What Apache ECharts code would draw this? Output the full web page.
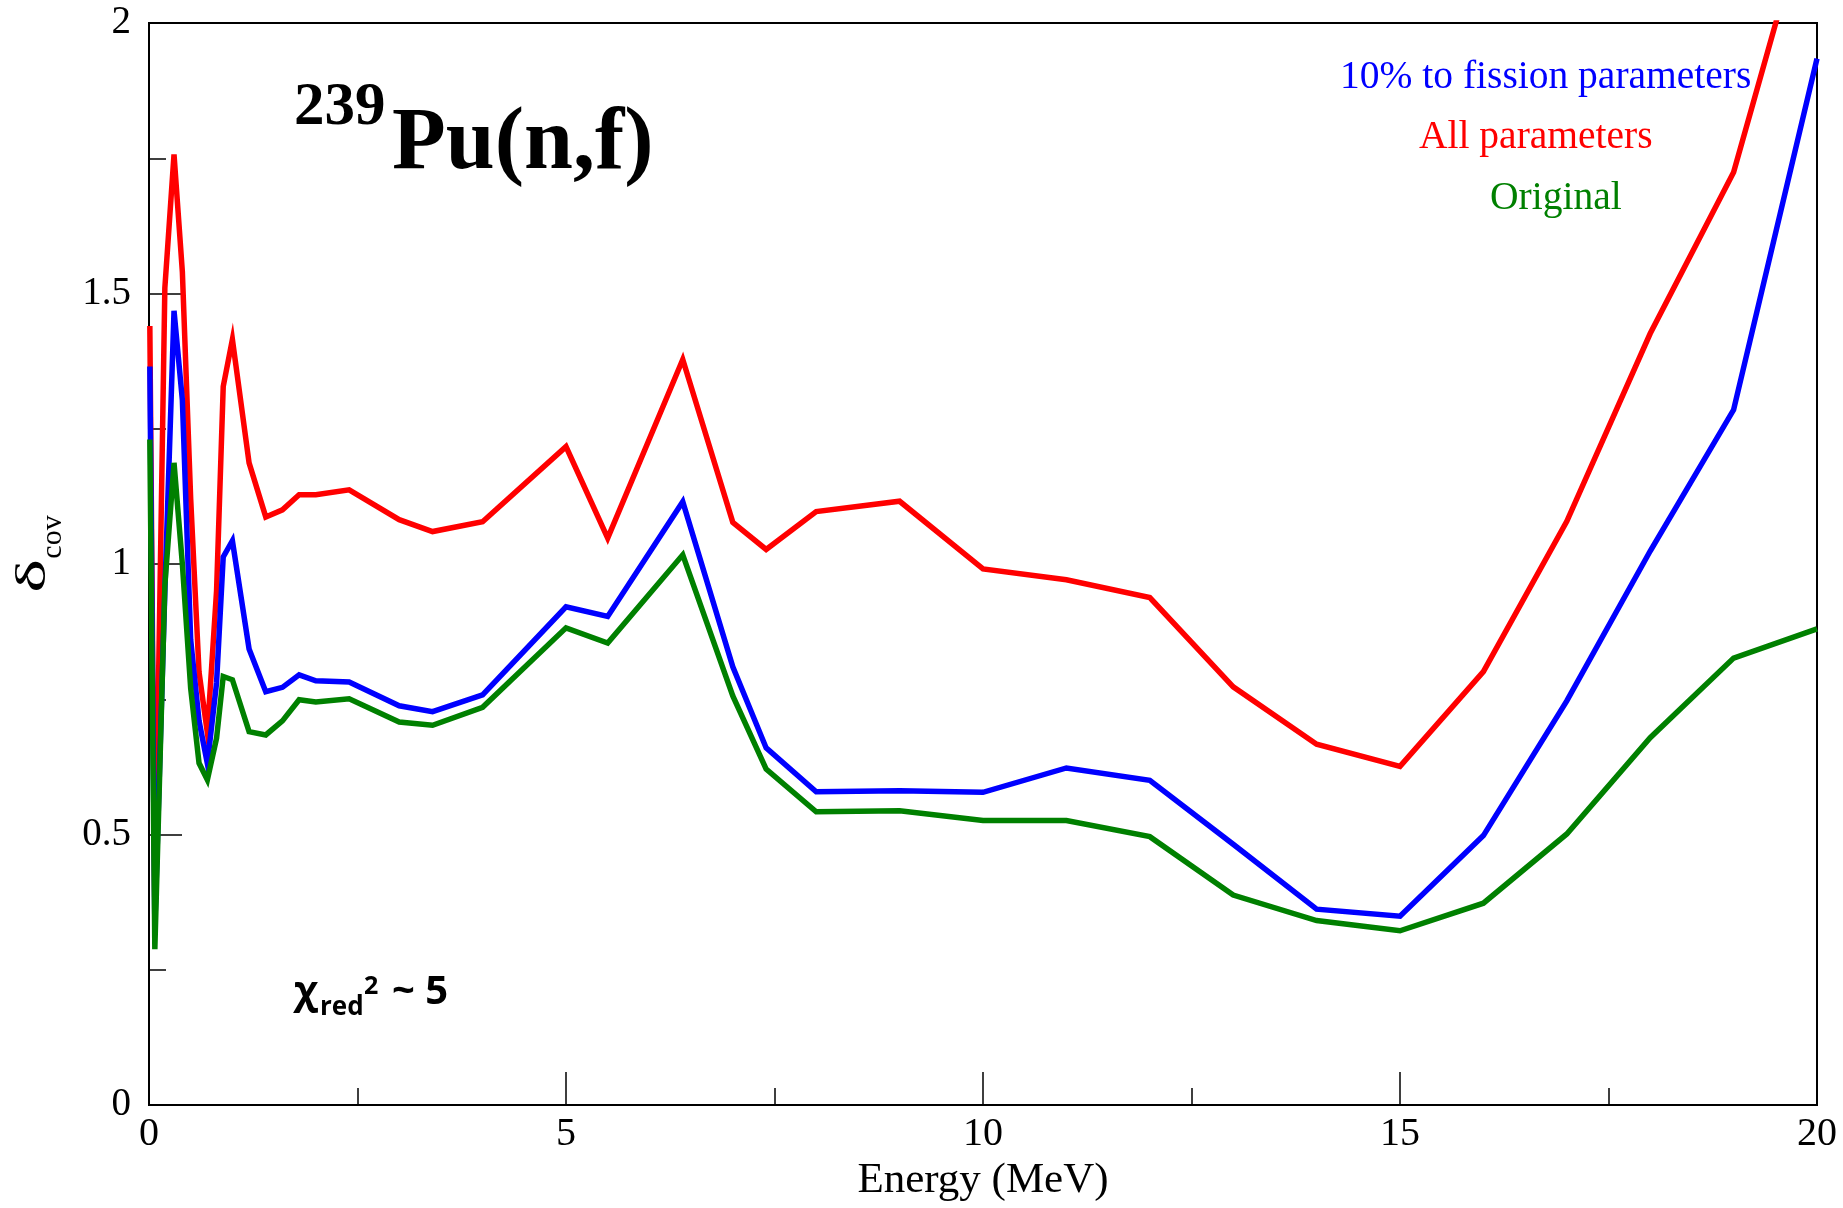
<!DOCTYPE html>
<html>
<head>
<meta charset="utf-8">
<title>239Pu(n,f) delta cov</title>
<script src="https://cdn.jsdelivr.net/npm/echarts@6/dist/echarts.min.js"></script>
<style>
  html, body { margin: 0; padding: 0; background: #fff; }
  #chart { width: 1843px; height: 1208px; }
</style>
</head>
<body>
<div id="chart"></div>
<script>
// energy grid (MeV), shared by all three curves
const energy = [0.01, 0.07, 0.19, 0.30, 0.40, 0.50, 0.60, 0.70, 0.81, 0.89, 1.0, 1.2, 1.4, 1.6, 1.8, 2.0, 2.4,
  3.0, 3.4, 4.0, 5.0, 5.5, 6.4, 7.0, 7.4, 8, 9, 10, 11, 12, 13, 14, 15, 16, 17, 18, 19, 20];

const allParams = [1.44, 0.36, 1.51, 1.757, 1.54, 1.12, 0.80, 0.688, 0.95, 1.328, 1.415, 1.187, 1.087, 1.10, 1.128, 1.128, 1.137,
  1.082, 1.060, 1.078, 1.217, 1.048, 1.378, 1.077, 1.027, 1.097, 1.116, 0.991, 0.971, 0.938, 0.773, 0.667, 0.626, 0.801, 1.079, 1.426, 1.724, 2.27];

const fissionParams = [1.365, 0.33, 0.95, 1.468, 1.303, 0.86, 0.71, 0.631, 0.78, 1.013, 1.043, 0.843, 0.764, 0.772, 0.795, 0.784, 0.782,
  0.738, 0.727, 0.758, 0.921, 0.903, 1.115, 0.810, 0.660, 0.579, 0.581, 0.578, 0.623, 0.600, 0.482, 0.362, 0.349, 0.498, 0.747, 1.024, 1.285, 1.934];

const original = [1.23, 0.288, 0.96, 1.187, 1.0, 0.77, 0.632, 0.601, 0.678, 0.792, 0.786, 0.690, 0.684, 0.71, 0.749, 0.745, 0.751,
  0.708, 0.702, 0.735, 0.882, 0.854, 1.017, 0.756, 0.621, 0.542, 0.544, 0.526, 0.526, 0.496, 0.388, 0.341, 0.322, 0.373, 0.501, 0.679, 0.826, 0.880];

const seriesNames = ['All parameters', '10% to fission parameters', 'Original'];
const seriesColors = ['#ff0000', '#0000ff', '#008000'];
const seriesValues = [allParams, fissionParams, original];

const serif = '"Liberation Serif", "DejaVu Serif", serif';
const sans = '"Open Sans", "DejaVu Sans", sans-serif';

function pairs(xs, ys) {
  return xs.map((x, i) => [x, ys[i]]);
}

function txt(x, y, text, size, color, opts) {
  return Object.assign({
    type: 'text',
    x: x,
    y: y,
    z: 100,
    style: Object.assign({
      text: text,
      fill: color || '#000',
      fontSize: size,
      fontFamily: serif,
      align: 'left',
      verticalAlign: 'middle'
    }, (opts && opts.style) || {})
  }, (opts && opts.el) || {});
}

const chart = echarts.init(document.getElementById('chart'));

const option = {
  animation: false,
  backgroundColor: '#fff',
  grid: {
    left: 149, right: 26, top: 23, bottom: 103,
    show: true,
    borderColor: '#000',
    borderWidth: 2,
    outerBoundsMode: 'none'
  },
  xAxis: {
    type: 'value',
    min: 0, max: 20, interval: 5,
    name: 'Energy (MeV)',
    nameLocation: 'middle',
    nameGap: 52,
    nameTextStyle: { fontFamily: serif, fontSize: 43, color: '#000' },
    axisLine: { onZero: false, lineStyle: { color: '#000', width: 2 } },
    axisTick: { inside: true, length: 33, lineStyle: { color: '#000', width: 1.5 } },
    minorTick: { show: true, splitNumber: 2, length: 17, lineStyle: { color: '#000', width: 1.5 } },
    splitLine: { show: false },
    axisLabel: { fontFamily: serif, fontSize: 40, color: '#000', margin: 9 }
  },
  yAxis: {
    type: 'value',
    min: 0, max: 2, interval: 0.5,
    axisLine: { onZero: false, lineStyle: { color: '#000', width: 2 } },
    axisTick: { inside: true, length: 33, lineStyle: { color: '#000', width: 1.5 } },
    minorTick: { show: true, splitNumber: 2, length: 17, lineStyle: { color: '#000', width: 1.5 } },
    splitLine: { show: false },
    axisLabel: { fontFamily: serif, fontSize: 39, color: '#000', margin: 18 }
  },
  series: seriesNames.map((name, i) => ({
    name: name,
    type: 'line',
    data: pairs(energy, seriesValues[i]),
    showSymbol: false,
    symbol: 'none',
    clip: true,
    z: 2 + i,
    lineStyle: { color: seriesColors[i], width: 5.5, join: 'miter' }
  })),
  graphic: [
    // title
    txt(294, 108, '239', 61, '#000', { style: { fontWeight: 'bold' } }),
    txt(392, 145, 'Pu(n,f)', 88, '#000', { style: { fontWeight: 'bold' } }),
    // curve labels
    txt(1340, 78, '10% to fission parameters', 39.5, seriesColors[1]),
    txt(1419, 138, 'All parameters', 39.5, seriesColors[0]),
    txt(1490, 199, 'Original', 39.5, seriesColors[2]),
    // reduced chi-square note
    txt(294, 993, 'χ', 40, '#000', { style: { fontFamily: sans, fontWeight: 'bold' } }),
    txt(320, 1008, 'red', 26, '#000', { style: { fontFamily: sans, fontWeight: 'bold' } }),
    txt(364, 987, '2', 25, '#000', { style: { fontFamily: sans, fontWeight: 'bold' } }),
    txt(392, 993, '~ 5', 40, '#000', { style: { fontFamily: sans, fontWeight: 'bold' } }),
    // y axis name, rotated
    txt(34, 576, 'δ', 42, '#000', { style: { align: 'center' }, el: { rotation: Math.PI / 2, scaleX: 1.7 } }),
    txt(53, 537, 'cov', 30, '#000', { style: { align: 'center' }, el: { rotation: Math.PI / 2 } })
  ]
};

chart.setOption(option);
</script>
</body>
</html>
